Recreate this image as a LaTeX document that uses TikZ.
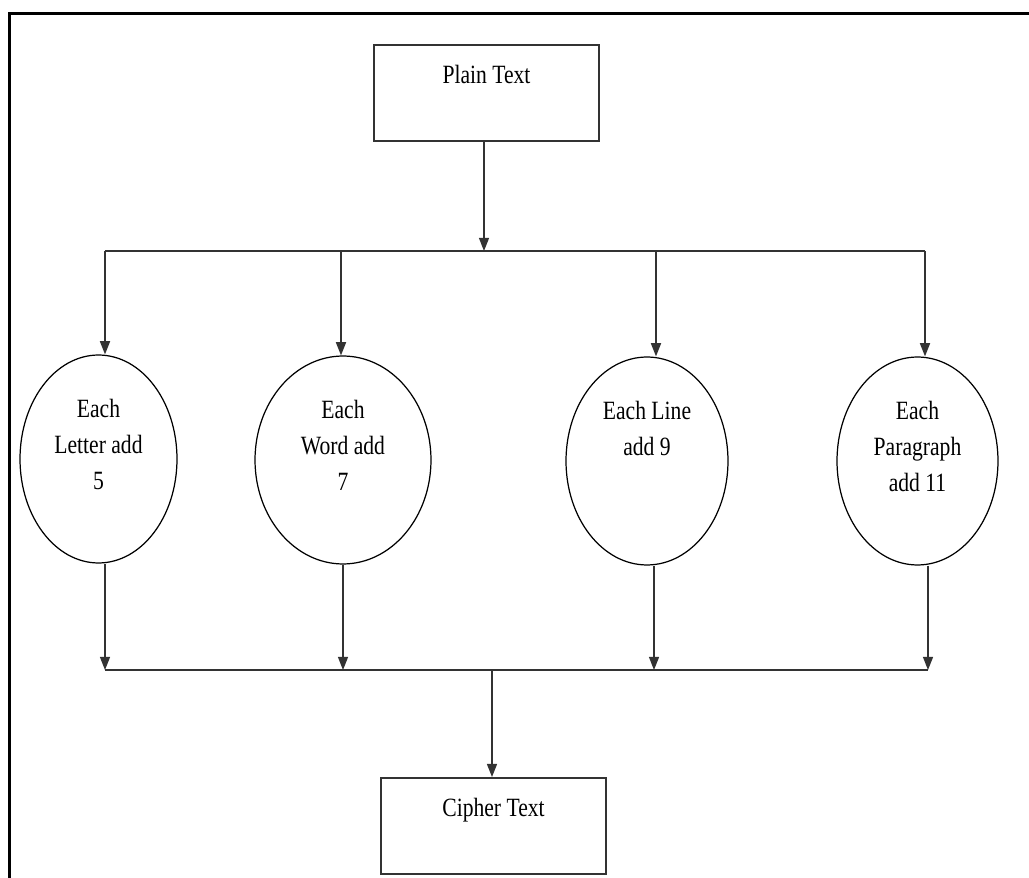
\documentclass[tikz,border=0pt]{standalone}
\usepackage{fontspec}
\setmainfont{Liberation Serif}[FakeStretch=0.82]
\usepackage{tikz}
\usetikzlibrary{arrows.meta}
\usetikzlibrary{positioning}
\usetikzlibrary{shapes}
\tikzstyle{box}=[draw=black!80,line width=1.1pt,minimum width=4.5cm,minimum height=1.92cm,inner sep=0pt,text height=11pt,text depth=22pt]
\tikzstyle{oval}=[draw,ellipse,line width=0.7pt,minimum height=4.16cm,inner sep=0pt]

\begin{document}
\begin{tikzpicture}[x=0.02cm,y=-0.02cm,>={Triangle[width=5.7pt,length=7.5pt]},font=\fontsize{15}{20.4}\selectfont]
\tikzstyle{ovaltext}=[align=center,inner sep=0pt]
\tikzstyle{link}=[draw=black!80,line width=0.85pt]
\clip (0,0) rectangle (1029,878);
\draw [line width=1.7pt] (9.5,13.5) rectangle (1060,910);

\node [box] (plain) at (486.5,93) {Plain Text};
\node [box] (cipher) at (493.5,826) {Cipher Text};

\node [oval,minimum width=3.14cm] (letter) at (98.5,459) {};
\node [oval,minimum width=3.52cm] (word) at (343,460) {};
\node [oval,minimum width=3.24cm] (line) at (647,461) {};
\node [oval,minimum width=3.22cm] (para) at (917.5,461) {};

\node [ovaltext,below=25.5pt of letter.north] (lettertxt) {Each\\Letter add\\5};
\node [ovaltext,below=25.5pt of word.north] (wordtxt) {Each\\Word add\\7};
\node [ovaltext,below=25.5pt of line.north] (linetxt) {Each Line\\add 9};
\node [ovaltext,below=25.5pt of para.north] (paratxt) {Each\\Paragraph\\add 11};

% split bus
\coordinate (split) at (484,251);
\coordinate (s1) at (105,251);
\coordinate (s2) at (341,251);
\coordinate (s3) at (656,251);
\coordinate (s4) at (925,251);
\draw [link,->] (plain.south -| split) -- (split);
\draw [link] (s1) -- (s4);
\draw [link,->] (s1) -- (s1 |- letter.north);
\draw [link,->] (s2) -- (s2 |- word.north);
\draw [link,->] (s3) -- (s3 |- line.north);
\draw [link,->] (s4) -- (s4 |- para.north);

% merge bus
\coordinate (merge) at (492,670);
\coordinate (j1) at (105,670);
\coordinate (j2) at (343,670);
\coordinate (j3) at (654,670);
\coordinate (j4) at (928,670);
\draw [link,->] (letter.south -| j1) -- (j1);
\draw [link,->] (word.south -| j2) -- (j2);
\draw [link,->] (line.south -| j3) -- (j3);
\draw [link,->] (para.south -| j4) -- (j4);
\draw [link] (j1) -- (j4);
\draw [link,->] (merge) -- (merge |- cipher.north);
\end{tikzpicture}
\end{document}
